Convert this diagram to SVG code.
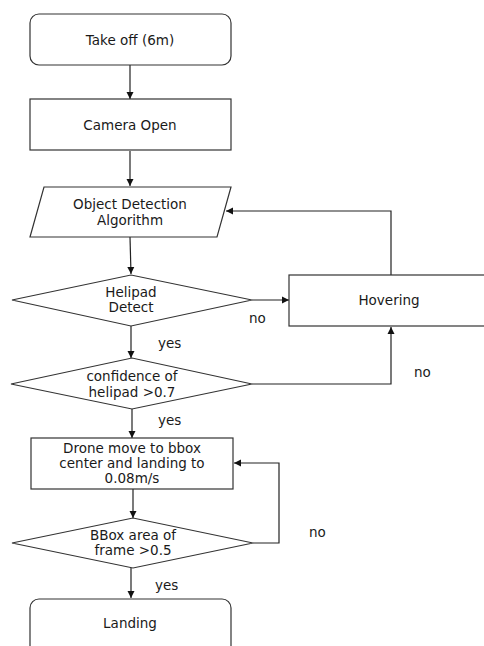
<svg xmlns="http://www.w3.org/2000/svg" width="484" height="646" viewBox="0 0 484 646">
<defs>
<marker id="ah" markerWidth="8" markerHeight="8" refX="7" refY="4" orient="auto" markerUnits="userSpaceOnUse">
<path d="M0,0.5 L7,4 L0,7.5 Z" fill="#111"/>
</marker>
<style>
.s{fill:#fff;stroke:#333;stroke-width:1.2}
.t{font-family:"DejaVu Sans","Noto Sans",sans-serif;font-size:13.5px;fill:#1a1a1a;text-anchor:middle}
.l{font-family:"DejaVu Sans","Noto Sans",sans-serif;font-size:13.5px;fill:#1a1a1a}
.c{fill:none;stroke:#222;stroke-width:1.2}
</style>
</defs>
<rect width="484" height="646" fill="#fff"/>
<g id="connectors">
<line class="c" x1="130" y1="65" x2="130" y2="99" marker-end="url(#ah)"/>
<line class="c" x1="130" y1="151" x2="130" y2="186" marker-end="url(#ah)"/>
<line class="c" x1="130" y1="237" x2="131" y2="274" marker-end="url(#ah)"/>
<polyline class="c" points="391,275 391,211 226,211" marker-end="url(#ah)"/>
<line class="c" x1="252" y1="300" x2="289" y2="300" marker-end="url(#ah)"/>
<polyline class="c" points="252,384 391,384 391,327" marker-end="url(#ah)"/>
<line class="c" x1="131" y1="326" x2="131" y2="358" marker-end="url(#ah)"/>
<line class="c" x1="132" y1="409" x2="132" y2="438" marker-end="url(#ah)"/>
<line class="c" x1="133" y1="489" x2="133" y2="518" marker-end="url(#ah)"/>
<polyline class="c" points="253,543 279,543 279,463 234,463" marker-end="url(#ah)"/>
<line class="c" x1="131" y1="568" x2="131" y2="598" marker-end="url(#ah)"/>
<text class="l" x="249" y="323">no</text>
<text class="l" x="158" y="348">yes</text>
<text class="l" x="414" y="377">no</text>
<text class="l" x="158" y="425">yes</text>
<text class="l" x="309" y="537">no</text>
<text class="l" x="155" y="590">yes</text>
</g>
<g id="takeoff">
<rect class="s" x="30" y="14" width="201" height="51" rx="9"/>
<text class="t" x="130" y="45">Take off (6m)</text>
</g>
<g id="camera">
<rect class="s" x="30" y="99" width="201" height="51"/>
<text class="t" x="130" y="130">Camera Open</text>
</g>
<g id="objdet">
<polygon class="s" points="44,187 231,187 217,237 30,237"/>
<text class="t" x="130" y="209">Object Detection</text>
<text class="t" x="130" y="225">Algorithm</text>
</g>
<g id="helipad">
<polygon class="s" points="12,300 131,275 252,300 131,326"/>
<text class="t" x="131" y="297">Helipad</text>
<text class="t" x="131" y="312">Detect</text>
</g>
<g id="hovering">
<rect class="s" x="289" y="275" width="200" height="51"/>
<text class="t" x="389" y="305">Hovering</text>
</g>
<g id="confidence">
<polygon class="s" points="11,384 132,358 252,384 132,409"/>
<text class="t" x="132" y="381">confidence of</text>
<text class="t" x="132" y="397">helipad &gt;0.7</text>
</g>
<g id="drone">
<rect class="s" x="31" y="438" width="202" height="51"/>
<text class="t" x="132" y="453">Drone move to bbox</text>
<text class="t" x="132" y="468">center and landing to</text>
<text class="t" x="132" y="483">0.08m/s</text>
</g>
<g id="bbox">
<polygon class="s" points="12,543 133,518 253,543 133,568"/>
<text class="t" x="133" y="540">BBox area of</text>
<text class="t" x="133" y="555">frame &gt;0.5</text>
</g>
<g id="landing">
<rect class="s" x="30" y="599" width="201" height="60" rx="9"/>
<text class="t" x="130" y="628">Landing</text>
</g>
</svg>
